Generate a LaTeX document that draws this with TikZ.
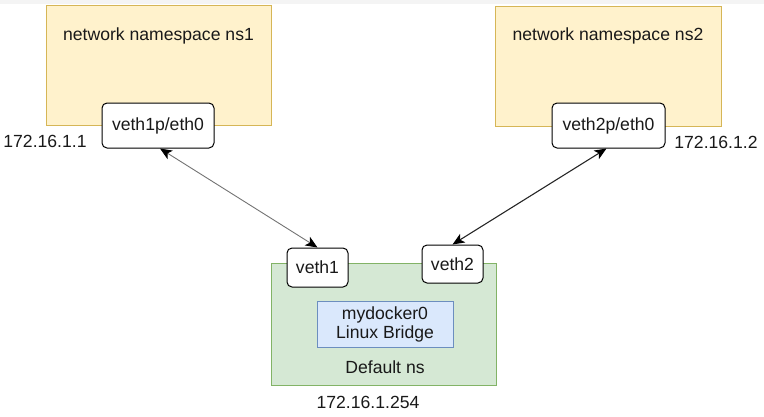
\documentclass[tikz,border=0pt]{standalone}
\usepackage{fontspec}
\setmainfont{Liberation Sans}
\usetikzlibrary{arrows.meta}
\definecolor{nsfill}{HTML}{FFF2CC}
\definecolor{nsline}{HTML}{D6B656}
\definecolor{dfill}{HTML}{D5E8D4}
\definecolor{dline}{HTML}{82B366}
\definecolor{bfill}{HTML}{DAE8FC}
\definecolor{bline}{HTML}{6C8EBF}
\definecolor{topband}{HTML}{F4F4F4}
\tikzset{
  nsbox/.style={draw=nsline, fill=nsfill, line width=1pt, minimum width=#1, minimum height=120pt, inner sep=0pt},
  port/.style={draw=black, fill=white, rounded corners=5pt, line width=1pt, inner sep=0pt, font=\fontsize{17.6}{20}\selectfont, text=black!90},
  lbl/.style={inner sep=0pt, font=\fontsize{17.6}{20}\selectfont, text=black!90},
  link/.style={{Stealth[length=12pt,width=10pt,inset=3pt,color=black]}-{Stealth[length=12pt,width=10pt,inset=3pt,color=black]}}
}
\begin{document}
\begin{tikzpicture}[x=1pt,y=-1pt]
\useasboundingbox (0,0) rectangle (764,416);
\fill[topband] (0,0) rectangle (764,4);
% namespaces
\node[nsbox=225pt] (ns1) at (158.5,65.5) {};
\node[lbl] (ns1lbl) at (158.5,36) {network namespace ns1};
\node[nsbox=226pt] (ns2) at (608,66) {};
\node[lbl] (ns2lbl) at (608,36) {network namespace ns2};
% default ns
\node[draw=dline, fill=dfill, line width=1pt, minimum width=225pt, minimum height=122pt, inner sep=0pt] (def) at (383.5,324) {};
\node[draw=bline, fill=bfill, line width=1pt, minimum width=136pt, minimum height=46pt, inner sep=0pt, align=center, font=\fontsize{17.6}{19}\selectfont, text=black!90] (br) at (385,324) {mydocker0\\Linux Bridge};
\node[lbl] (deflbl) at (385,367) {Default ns};
% ports
\node[port, minimum width=112pt, minimum height=45pt] (v1p) at (158,125.5) {veth1p/eth0};
\node[port, minimum width=113pt, minimum height=45pt] (v2p) at (608.5,125.5) {veth2p/eth0};
\node[port, minimum width=61pt, minimum height=39pt] (v1) at (317.5,267.5) {veth1};
\node[port, minimum width=61pt, minimum height=38pt] (v2) at (452.5,264) {veth2};
% addresses
\node[lbl] (ip1) at (45,141.5) {172.16.1.1};
\node[lbl] (ip2) at (716,142) {172.16.1.2};
\node[lbl] (ip3) at (368,402) {172.16.1.254};
% links
\draw[link, draw=black!55, line width=0.9pt] (v1p.-85) -- (v1.north);
\draw[link, draw=black!85, line width=1.1pt] (v2p.-95) -- (v2.north);
\end{tikzpicture}
\end{document}
